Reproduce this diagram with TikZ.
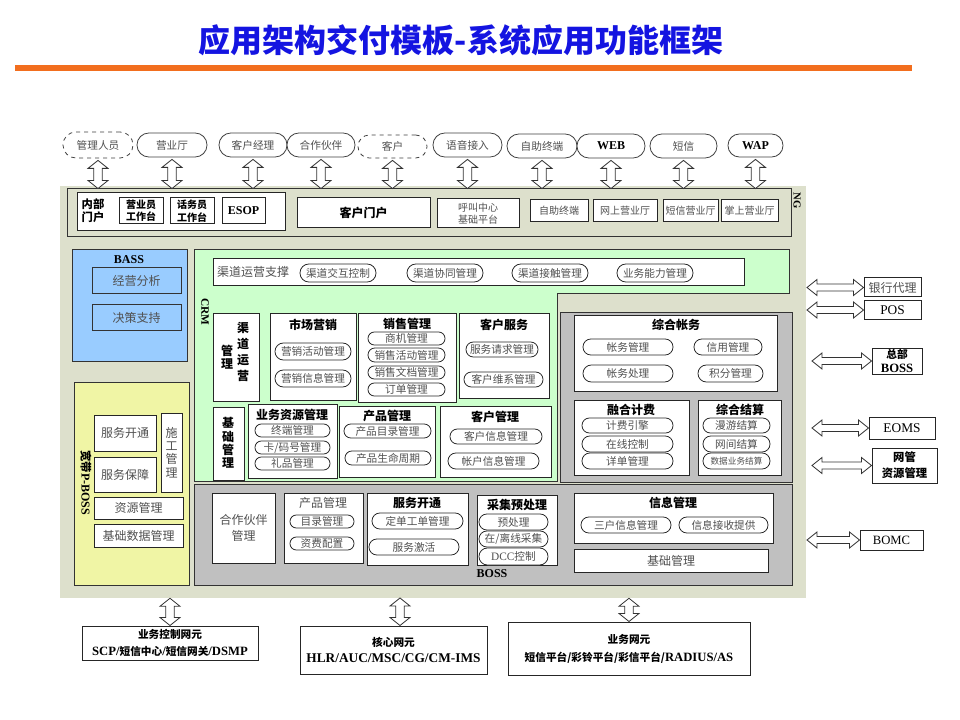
\documentclass[tikz,border=0pt]{standalone}
\usepackage{fontspec}
\setmainfont{Noto Sans CJK SC}
\newfontfamily\lat{Liberation Serif}
\usetikzlibrary{calc}
\definecolor{panelbg}{RGB}{221,224,204}
\definecolor{crmgreen}{RGB}{204,255,204}
\definecolor{bassblue}{RGB}{153,204,255}
\definecolor{pyellow}{RGB}{240,245,165}
\definecolor{bgray}{RGB}{192,192,192}
\definecolor{ttlblue}{RGB}{20,20,225}
\definecolor{orangebar}{RGB}{242,110,30}
\definecolor{tgray}{RGB}{80,80,80}
\newcommand\bx[7]{\node[#6, minimum width={(#4-#2)*0.75pt}, minimum height={(#5-#3)*0.75pt}] (#1) at ({(#2+#4)/2},{(#3+#5)/2}) {#7};}
\newcommand\pl[7]{\node[#6, rectangle, rounded corners={(#5-#3)*0.375pt-0.1pt}, minimum width={(#4-#2)*0.75pt}, minimum height={(#5-#3)*0.75pt}] (#1) at ({(#2+#4)/2},{(#3+#5)/2}) {#7};}
\newcommand\latw[2]{{\lat\fontsize{#1}{#1}\selectfont #2}}
\begin{document}
\begin{tikzpicture}[x=0.75pt,y=-0.75pt,
 wbox/.style={rectangle, draw=black!85, fill=white, line width=0.75pt, inner sep=0pt, align=center},
 pill/.style={draw=black!85, fill=white, line width=0.6pt, inner sep=0pt, font=\fontsize{8}{9}\selectfont, text=tgray},
 actor/.style={draw=black!75, fill=white, line width=0.6pt, inner sep=0pt, font=\fontsize{8}{9}\selectfont, text=tgray},
 ttl/.style={inner sep=0pt, font=\bfseries\fontsize{9}{10}\selectfont},
 ngt/.style={font=\fontsize{7.5}{9}\selectfont, text=tgray},
 gtxt/.style={font=\fontsize{9}{10}\selectfont, text=tgray},
 vt/.style={inner sep=0pt, align=center, font=\bfseries\fontsize{9}{10}\selectfont},
 area/.style={rectangle, inner sep=0pt, draw=black!80, line width=0.75pt},
 blockarr/.style={draw=black!80, fill=white, line width=0.6pt},
 vdbl/.style={blockarr, to path={let \p1=(\tikztostart), \p2=(\tikztotarget) in
   (\x1,\y1) -- (\x1+7.5pt,\y1-6pt) -- (\x1+3.2pt,\y1-6pt) -- (\x1+3.2pt,\y2+6pt) -- (\x1+7.5pt,\y2+6pt) -- (\x1,\y2)
   -- (\x1-7.5pt,\y2+6pt) -- (\x1-3.2pt,\y2+6pt) -- (\x1-3.2pt,\y1-6pt) -- (\x1-7.5pt,\y1-6pt) -- cycle}},
 hdbl/.style={blockarr, to path={let \p1=(\tikztostart), \p2=(\tikztotarget) in
   (\x1,\y1) -- (\x1+7.5pt,\y1+6pt) -- (\x1+7.5pt,\y1+2.6pt) -- (\x2-7.5pt,\y1+2.6pt) -- (\x2-7.5pt,\y1+6pt) -- (\x2,\y1)
   -- (\x2-7.5pt,\y1-6pt) -- (\x2-7.5pt,\y1-2.6pt) -- (\x1+7.5pt,\y1-2.6pt) -- (\x1+7.5pt,\y1-6pt) -- cycle}}
]
\useasboundingbox (0,0) rectangle (960,720);
\fill[white] (0,0) rectangle (960,720);
% title
\node[inner sep=0pt, font=\bfseries\fontsize{24}{26}\selectfont, text=ttlblue] (title) at (461,40) {应用架构交付模板-系统应用功能框架};
\fill[orangebar] (15,65) rectangle (912,71);

% actors
\pl{a1}{63}{132}{133}{158}{actor,dashed}{管理人员}
\pl{a2}{137}{133}{207}{157}{actor}{营业厅}
\pl{a3}{219}{133}{287}{157}{actor}{客户经理}
\pl{a4}{287}{133}{355}{157}{actor}{合作伙伴}
\pl{a5}{358}{135}{427}{158}{actor,dashed}{客户}
\pl{a6}{433}{133}{502}{157}{actor}{语音接入}
\pl{a7}{507}{134}{577}{158}{actor}{自助终端}
\pl{a8}{577}{134}{645}{158}{actor,text=black}{\bfseries\latw{9}{WEB}}
\pl{a9}{650}{134}{717}{158}{actor}{短信}
\pl{a10}{728}{134}{783}{157}{actor,text=black}{\bfseries\latw{9}{WAP}}

% main panel
\bx{panel}{60}{186}{806}{598}{rectangle,inner sep=0pt,fill=panelbg}{}

% NG bar
\bx{ng}{67}{189}{791}{237}{area,fill=panelbg}{}
\node[inner sep=0pt, rotate=-90, font=\bfseries] (nglbl) at (797,201) {\latw{8}{NG}};
\bx{nbmh}{77}{193}{285}{231}{wbox}{}
\node[ttl, font=\bfseries\fontsize{8.5}{10}\selectfont, align=left] (nbmht) at (93,211) {内部\\门户};
\bx{yyy}{119}{198}{163}{224}{wbox, font=\bfseries\fontsize{7.5}{9.3}\selectfont}{营业员\\工作台}
\bx{hwy}{170}{198}{214}{224}{wbox, font=\bfseries\fontsize{7.5}{9.3}\selectfont}{话务员\\工作台}
\bx{esop}{222}{198}{265}{224}{wbox, font=\bfseries}{\latw{9}{ESOP}}
\bx{khmh}{297}{198}{430}{228}{wbox, font=\bfseries\fontsize{9}{10}\selectfont}{客户门户}
\bx{hjzx}{437}{199}{519}{228}{wbox, ngt}{呼叫中心\\基础平台}
\bx{zzzd}{530}{200}{588}{222}{wbox, ngt}{自助终端}
\bx{wsyyt}{593}{200}{657}{222}{wbox, ngt}{网上营业厅}
\bx{dxyyt}{663}{200}{718}{222}{wbox, ngt}{短信营业厅}
\bx{zsyyt}{721}{200}{778}{222}{wbox, ngt}{掌上营业厅}

% BASS
\bx{bass}{72}{250}{187}{361}{area,fill=bassblue}{}
\node[ttl] (basst) at (129,260) {\latw{9}{BASS}};
\bx{jyfx}{92}{268}{181}{294}{area,fill=bassblue,gtxt}{经营分析}
\bx{jczc}{92}{305}{181}{330}{area,fill=bassblue,gtxt}{决策支持}

% CRM green area
\draw[fill=crmgreen, draw=black!80, line width=0.75pt] (194,250) -- (789,250) -- (789,294) -- (557,294) -- (557,481) -- (194,481) -- cycle;
\bx{qdyy}{213}{259}{744}{286}{wbox}{}
\node[inner sep=0pt, gtxt] (qdyyt) at (253,272) {渠道运营支撑};
\pl{q1}{300}{264}{376}{282}{pill}{渠道交互控制}
\pl{q2}{407}{264}{483}{282}{pill}{渠道协同管理}
\pl{q3}{512}{264}{588}{282}{pill}{渠道接触管理}
\pl{q4}{617}{264}{693}{282}{pill}{业务能力管理}
\node[inner sep=0pt, rotate=-90, font=\bfseries] (crmlbl) at (205,312) {\latw{8.5}{CRM}};

\bx{qdyygl}{213}{313}{259}{401}{wbox}{}
\node[vt, font=\bfseries\fontsize{9}{12}\selectfont] (qdv1) at (243,352) {渠\\道\\运\\营};
\node[vt] (qdv2) at (227,357) {管\\理};

\bx{scyx}{270}{313}{356}{400}{wbox}{}
\node[ttl] (scyxt) at (313,325) {市场营销};
\pl{s1}{275}{343}{351}{360}{pill}{营销活动管理}
\pl{s2}{275}{370}{351}{387}{pill}{营销信息管理}

\bx{xsgl}{358}{313}{456}{402}{wbox}{}
\node[ttl] (xsglt) at (407,324) {销售管理};
\pl{x1}{368}{332}{445}{345}{pill}{商机管理}
\pl{x2}{368}{348}{445}{362}{pill}{销售活动管理}
\pl{x3}{368}{366}{445}{379}{pill}{销售文档管理}
\pl{x4}{368}{383}{445}{396}{pill}{订单管理}

\bx{khfw}{459}{313}{549}{398}{wbox}{}
\node[ttl] (khfwt) at (504,325) {客户服务};
\pl{k1}{466}{342}{538}{357}{pill}{服务请求管理}
\pl{k2}{464}{372}{543}{387}{pill}{客户维系管理}

\bx{jcgl}{213}{407}{244}{480}{wbox}{}
\node[vt] (jcglt) at (228,443) {基\\础\\管\\理};

\bx{ywzy}{248}{404}{337}{478}{wbox}{}
\node[ttl] (ywzyt) at (292,415) {业务资源管理};
\pl{y1}{255}{424}{330}{437}{pill}{终端管理}
\pl{y2}{255}{441}{330}{454}{pill}{卡/码号管理}
\pl{y3}{255}{457}{330}{470}{pill}{礼品管理}

\bx{cpgl}{339}{406}{435}{477}{wbox}{}
\node[ttl] (cpglt) at (387,416) {产品管理};
\pl{c1}{344}{424}{431}{438}{pill}{产品目录管理}
\pl{c2}{345}{451}{431}{465}{pill}{产品生命周期}

\bx{khgl}{440}{406}{551}{477}{wbox}{}
\node[ttl] (khglt) at (495,417) {客户管理};
\pl{h1}{450}{429}{542}{444}{pill}{客户信息管理}
\pl{h2}{448}{453}{539}{469}{pill}{帐户信息管理}

% Billing gray
\bx{billing}{560}{312}{792}{482}{area,fill=bgray}{}
\bx{zhzw}{574}{315}{777}{391}{wbox}{}
\node[ttl] (zhzwt) at (676,325) {综合帐务};
\pl{z1}{583}{339}{673}{355}{pill}{帐务管理}
\pl{z2}{694}{339}{762}{355}{pill}{信用管理}
\pl{z3}{583}{365}{673}{382}{pill}{帐务处理}
\pl{z4}{698}{365}{763}{382}{pill}{积分管理}
\bx{rhjf}{574}{400}{689}{475}{wbox}{}
\node[ttl] (rhjft) at (631,410) {融合计费};
\pl{r1}{582}{418}{673}{433}{pill}{计费引擎}
\pl{r2}{582}{436}{673}{452}{pill}{在线控制}
\pl{r3}{582}{453}{673}{469}{pill}{详单管理}
\bx{zhjs}{698}{400}{781}{475}{wbox}{}
\node[ttl] (zhjst) at (740,410) {综合结算};
\pl{j1}{703}{418}{770}{433}{pill}{漫游结算}
\pl{j2}{703}{436}{770}{452}{pill}{网间结算}
\pl{j3}{703}{453}{770}{469}{pill, font=\fontsize{6.5}{8}\selectfont}{数据业务结算}

% BOSS gray
\bx{boss}{194}{484}{792}{585}{area,fill=bgray}{}
\bx{hzhb}{212}{493}{275}{563}{wbox, font=\fontsize{9}{12.5}\selectfont, text=tgray}{合作伙伴\\管理}
\bx{cpgl2}{284}{493}{363}{563}{wbox}{}
\node[inner sep=0pt, gtxt] (cpgl2t) at (323,503) {产品管理};
\pl{b1}{290}{515}{354}{528}{pill}{目录管理}
\pl{b2}{290}{537}{354}{550}{pill}{资费配置}
\bx{fwkt}{367}{493}{468}{565}{wbox}{}
\node[ttl] (fwktt) at (417,503) {服务开通};
\pl{f1}{372}{513}{463}{529}{pill}{定单工单管理}
\pl{f2}{369}{539}{459}{555}{pill}{服务激活}
\bx{cjycl}{477}{495}{557}{565}{wbox}{}
\node[ttl] (cjyclt) at (517,505) {采集预处理};
\pl{e1}{479}{514}{548}{530}{pill}{预处理}
\pl{e2}{479}{531}{548}{547}{pill}{在/离线采集}
\pl{e3}{479}{548}{548}{565}{pill}{\latw{8.5}{DCC}控制}
\node[ttl] (bosslbl) at (492,574) {\latw{9}{BOSS}};
\bx{xxgl}{574}{493}{773}{543}{wbox}{}
\node[ttl] (xxglt) at (673,503) {信息管理};
\pl{i1}{581}{517}{671}{533}{pill}{三户信息管理}
\pl{i2}{679}{517}{768}{533}{pill}{信息接收提供}
\bx{jcgl2}{574}{549}{768}{572}{wbox, gtxt}{基础管理}

% P-BOSS yellow
\bx{pboss}{74}{382}{189}{585}{area,fill=pyellow}{}
\node[inner sep=0pt, rotate=-90, font=\bfseries\fontsize{8.5}{10}\selectfont] (pbosslbl) at (86,483) {宽带\latw{9}{P-BOSS}};
\bx{pk}{94}{415}{156}{451}{wbox, gtxt}{服务开通}
\bx{pb}{94}{457}{156}{492}{wbox, gtxt}{服务保障}
\bx{psg}{161}{413}{182}{492}{wbox, gtxt}{施\\工\\管\\理}
\bx{pzy}{94}{497}{183}{519}{wbox, gtxt}{资源管理}
\bx{pjc}{94}{524}{183}{547}{wbox, gtxt}{基础数据管理}

% right external systems
\bx{yhdl}{864}{278}{921}{297}{wbox, gtxt}{银行代理}
\bx{pos}{864}{301}{921}{319}{wbox}{\latw{10}{POS}}
\bx{zbboss}{872}{348}{922}{374}{wbox, font=\bfseries\fontsize{8}{10.5}\selectfont}{总部\\\latw{9.5}{BOSS}}
\bx{eoms}{869}{417}{935}{439}{wbox}{\latw{10}{EOMS}}
\bx{wg}{872}{448}{937}{483}{wbox, font=\bfseries\fontsize{8.5}{12}\selectfont}{网管\\资源管理}
\bx{bomc}{860}{530}{923}{550}{wbox}{\latw{9.5}{BOMC}}

% bottom network elements
\bx{ywkz}{82}{626}{258}{660}{wbox, font=\bfseries\fontsize{8}{12.5}\selectfont}{业务控制网元\\\latw{9.5}{SCP/}短信中心\latw{9.5}{/}短信网关\latw{9.5}{/DSMP}}
\bx{hxwy}{300}{626}{487}{674}{wbox, font=\bfseries\fontsize{8}{11.5}\selectfont}{核心网元\\\latw{10}{HLR/AUC/MSC/CG/CM-IMS}}
\bx{ywwy}{508}{622}{750}{675}{wbox, font=\bfseries\fontsize{8}{13.5}\selectfont}{业务网元\\短信平台/彩铃平台/彩信平台/\latw{9.5}{RADIUS/AS}}

% connectors
\foreach \ac in {a1,a2,a3,a4,a5,a6,a7,a8,a9,a10}{
  \coordinate (\ac-top) at ([yshift=-1.5pt]\ac.south);
  \coordinate (\ac-bot) at (\ac.south |- ng.north);
  \draw[vdbl] (\ac-top) to (\ac-bot);
}
\coordinate (re1) at (807,0);
\coordinate (re2) at (812,0);
\draw[hdbl] (re1 |- yhdl.west) to (yhdl.west);
\draw[hdbl] (re1 |- pos.west) to (pos.west);
\draw[hdbl] (re2 |- zbboss.west) to (zbboss.west);
\draw[hdbl] (re2 |- eoms.west) to (eoms.west);
\draw[hdbl] (re2 |- wg.west) to (wg.west);
\draw[hdbl] (re1 |- bomc.west) to (bomc.west);
\coordinate (bc2) at (400,598);
\coordinate (bc2b) at (bc2 |- hxwy.north);
\coordinate (bc1) at (ywkz.north |- panel.south);
\coordinate (bc3) at (ywwy.north |- panel.south);
\draw[vdbl] (bc1) to (ywkz.north);
\draw[vdbl] (bc2) to (bc2b);
\draw[vdbl] (bc3) to (ywwy.north);
\end{tikzpicture}
\end{document}
